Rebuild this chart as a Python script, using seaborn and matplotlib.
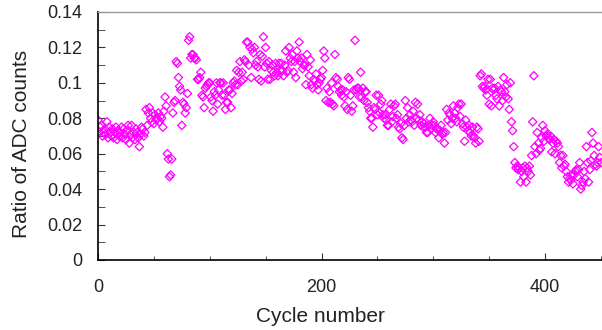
import numpy as np
import pandas as pd
import matplotlib
matplotlib.use("Agg")
import matplotlib.pyplot as plt
from matplotlib.ticker import MultipleLocator, FuncFormatter
import seaborn as sns

# Ratio of ADC counts per cycle, in thousandths (cycles 0..450)
ratio_milli = [
    79, 72, 75, 76, 70, 72, 74, 71, 78, 69,
    75, 72, 70, 74, 69, 72, 75, 68, 73, 70,
    72, 75, 69, 74, 71, 68, 73, 76, 66, 71,
    76, 69, 72, 68, 74, 72, 69, 64, 71, 75,
    74, 70, 72, 85, 76, 83, 86, 80, 78, 83,
    77, 82, 79, 80, 83, 78, 81, 80, 75, 84,
    92, 87, 60, 57, 47, 48, 57, 83, 89, 90,
    112, 111, 103, 98, 96, 76, 89, 88, 83, 86,
    94, 124, 126, 114, 116, 116, 114, 114, 113, 102,
    102, 103, 106, 93, 92, 86, 97, 98, 99, 100,
    100, 92, 90, 84, 95, 93, 100, 88, 96, 100,
    100, 93, 100, 93, 85, 89, 89, 96, 96, 86,
    94, 100, 101, 99, 107, 99, 106, 112, 101, 106,
    102, 113, 112, 123, 123, 110, 120, 103, 119, 117,
    120, 110, 112, 109, 102, 116, 101, 115, 126, 109,
    120, 111, 102, 112, 102, 107, 110, 106, 104, 111,
    106, 104, 111, 107, 111, 107, 104, 110, 118, 106,
    107, 120, 114, 112, 116, 106, 112, 103, 118, 114,
    123, 112, 114, 108, 110, 110, 99, 116, 109, 104,
    113, 99, 97, 102, 101, 105, 99, 96, 100, 102,
    103, 107, 118, 114, 90, 97, 89, 95, 89, 100,
    88, 87, 116, 103, 102, 98, 95, 96, 93, 96,
    92, 87, 95, 85, 103, 102, 93, 84, 87, 96,
    124, 96, 97, 97, 92, 106, 92, 97, 90, 95,
    95, 89, 86, 84, 80, 80, 75, 86, 85, 93,
    82, 93, 83, 88, 90, 82, 80, 82, 79, 76,
    76, 85, 88, 78, 81, 87, 88, 80, 82, 75,
    74, 77, 69, 68, 76, 90, 80, 86, 78, 82,
    79, 78, 84, 76, 89, 80, 88, 79, 82, 76,
    78, 75, 77, 75, 72, 72, 76, 80, 74, 76,
    78, 76, 72, 74, 74, 69, 73, 76, 71, 72,
    66, 72, 85, 79, 83, 82, 77, 80, 87, 83,
    80, 78, 86, 88, 81, 88, 77, 75, 67, 79,
    75, 73, 76, 72, 70, 75, 70, 69, 66, 75,
    74, 67, 104, 105, 98, 97, 98, 96, 93, 102,
    88, 102, 87, 97, 96, 97, 93, 91, 98, 87,
    96, 95, 90, 103, 95, 92, 99, 91, 85, 100,
    78, 73, 64, 55, 52, 53, 51, 52, 44, 50,
    52, 47, 53, 44, 52, 50, 53, 48, 59, 78,
    104, 64, 60, 72, 66, 62, 63, 69, 76, 67,
    73, 70, 71, 69, 68, 70, 61, 66, 68, 60,
    67, 66, 64, 55, 59, 52, 59, 53, 54, 50,
    47, 44, 46, 45, 48, 43, 48, 50, 51, 47,
    51, 55, 40, 42, 44, 50, 46, 64, 55, 44,
    51, 56, 72, 66, 59, 54, 53, 55, 64, 58,
    55,
]
cycles = list(range(len(ratio_milli)))
x_ticks = [0, 200, 400]
y_ticks = [0, 0.02, 0.04, 0.06, 0.08, 0.1, 0.12, 0.14]

df = pd.DataFrame({"cycle": cycles, "ratio": np.array(ratio_milli) / 1000.0})

sns.set_theme(style="white")
plt.rcParams['font.family'] = ['Liberation Sans', 'DejaVu Sans']

fig = plt.figure(figsize=(6.02, 3.30), dpi=100)
ax = fig.add_axes([98/602, 1 - 260/330, 504/602, 248/330])

sns.scatterplot(data=df, x="cycle", y="ratio", ax=ax, marker="D", s=18,
                facecolor="none", edgecolor="#FF00FF", linewidth=0.9, legend=False)

ax.set_xlim(0, 451)
ax.set_ylim(0, 0.14)
ax.set_xticks(x_ticks)
ax.set_yticks(y_ticks)
ax.xaxis.set_minor_locator(MultipleLocator(50))
ax.yaxis.set_minor_locator(MultipleLocator(0.01))
ax.yaxis.set_major_formatter(FuncFormatter(lambda v, p: f"{v:g}"))

ax.tick_params(axis="both", which="both", direction="in", color="#333333",
               labelcolor="#222222", labelsize=13)
ax.tick_params(axis="x", which="major", length=5, width=0.8, pad=14)
ax.tick_params(axis="x", which="minor", length=3, width=0.6)
ax.tick_params(axis="y", which="major", length=5, width=0.8, pad=11)
ax.tick_params(axis="y", which="minor", length=5, width=0.6)
ax.tick_params(bottom=True, left=True, which="both")

for side in ["left", "bottom"]:
    ax.spines[side].set_color("black")
    ax.spines[side].set_linewidth(1.2)
ax.spines["top"].set_color("#999999")
ax.spines["top"].set_linewidth(1.0)
ax.spines["right"].set_visible(False)

ax.set_xlabel("Cycle number", fontsize=15, color="#222222")
ax.set_ylabel("Ratio of ADC counts", fontsize=15, color="#222222")
ax.xaxis.set_label_coords((320 - 98) / 504, (260 - 316) / 248)
ax.yaxis.set_label_coords((22 - 98) / 504, (260 - 144) / 248)
ax.xaxis.label.set_va("center")
ax.yaxis.label.set_va("center")

fig.savefig("out.png", dpi=100)
